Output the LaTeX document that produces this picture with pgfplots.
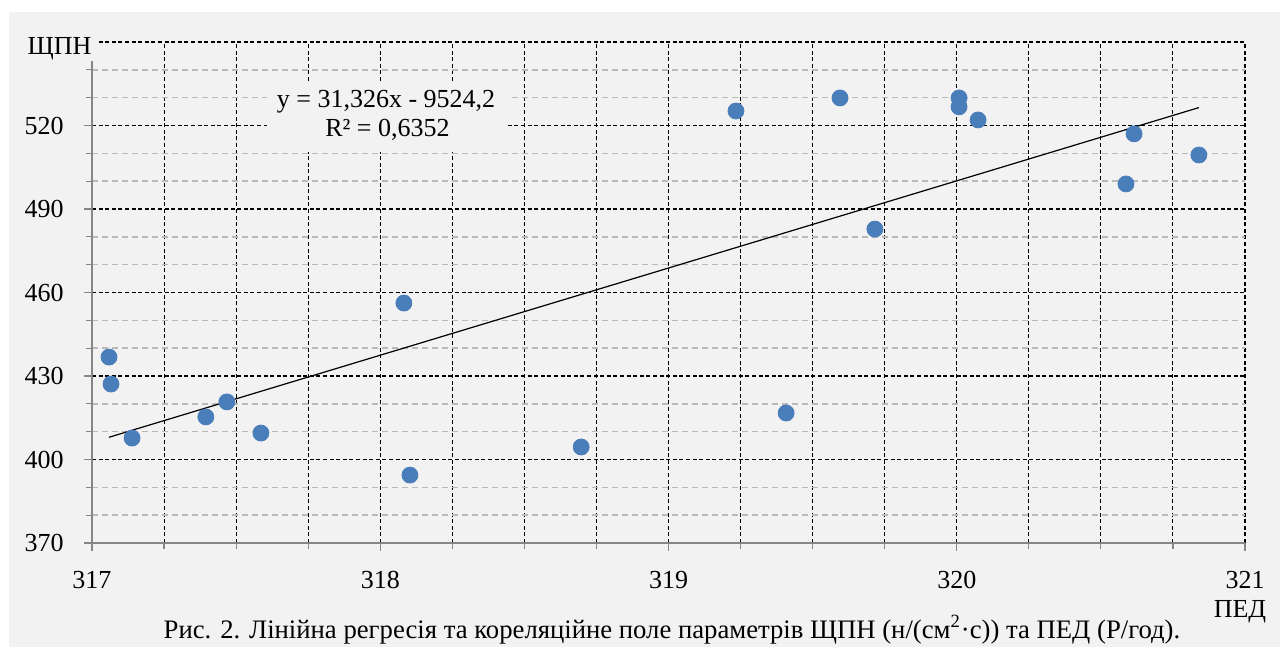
\documentclass[border=0pt]{standalone}
\usepackage{fontspec}
\setmainfont{Liberation Serif}
\usepackage{pgfplots}
\pgfplotsset{compat=1.18}
\definecolor{bgc}{RGB}{242,242,242}
\definecolor{ptc}{RGB}{74,126,187}
\definecolor{axc}{RGB}{134,134,134}
\definecolor{mingrid}{RGB}{185,185,185}
\newcommand\fs{\fontsize{13}{15}\selectfont}
\begin{document}
\begin{tikzpicture}
\useasboundingbox (0,0) rectangle (641.5pt,323.5pt);
\fill[white] (0,0) rectangle (641.5pt,323.5pt);
\fill[bgc] (4.5pt,0) rectangle (640pt,317.5pt);
\begin{axis}[
  at={(46pt,52pt)}, anchor=origin,
  scale only axis, width=576.5pt, height=250.5pt,
  xmin=317, xmax=321, ymin=370, ymax=550,
  axis x line=bottom, axis y line=left,
  axis line style={draw=axc, line width=0.7pt, -},
  y axis line style={shorten >=5pt},
  xtick={317,318,319,320,321},
  minor xtick={317.25,317.5,317.75,318.25,318.5,318.75,319.25,319.5,319.75,320.25,320.5,320.75},
  ytick={370,400,430,460,490,520},
  minor ytick={380,390,410,420,440,450,470,480,500,510,530,540},
  extra y ticks={550}, extra y tick labels={},
  extra y tick style={major tick length=0pt},
  tick align=outside,
  tick style={draw=axc, line width=0.6pt},
  major tick length=4pt, minor tick length=3.2pt,
  grid=both,
  major grid style={black, line width=0.55pt, dash pattern=on 2pt off 1.3pt},
  minor y grid style={mingrid, line width=0.7pt, dash pattern=on 3pt off 2pt},
  minor x grid style={black, line width=0.55pt, dash pattern=on 2pt off 1.3pt},
  /pgf/number format/assume math mode=true,
  /pgf/number format/1000 sep={},
  ticklabel style={font=\fs},
  xticklabel shift=6.7pt,
  yticklabel shift=6.7pt,
  clip=false,
]
\addplot[black, line width=0.6pt] coordinates {(317.059,407.99) (320.840,526.43)};
\addplot[only marks, mark=*, mark size=4pt, mark options={fill=ptc, draw=ptc}] coordinates {
(317.059,436.8)
(317.066,427.1)
(317.139,407.7)
(317.395,415.3)
(317.468,420.7)
(317.586,409.5)
(318.082,456.2)
(318.103,394.4)
(318.697,404.5)
(319.234,525.2)
(319.408,416.7)
(319.595,529.9)
(319.716,482.8)
(320.008,529.9)
(320.008,526.7)
(320.074,522.0)
(320.587,499.0)
(320.615,517.0)
(320.840,509.4)
};
\end{axis}
\fill[bgc] (133.5pt,247.5pt) rectangle (254pt,282.5pt);
\node[anchor=base, inner sep=0pt, font=\fs] at (193pt,269.5pt) {y = 31,326x - 9524,2};
\node[anchor=base, inner sep=0pt, font=\fs] at (193.75pt,255pt) {R² = 0,6352};
\fill[bgc] (13pt,293pt) rectangle (48pt,308pt);
\node[anchor=base, inner sep=0pt, font=\fs] at (29.75pt,296pt) {ЩПН};
\node[anchor=base, inner sep=0pt, font=\fs] at (620pt,15pt) {ПЕД};
\node[anchor=base, inner sep=0pt, font=\fontsize{13.35}{15}\selectfont] at (336pt,4.5pt) {Рис. 2. Лінійна регресія та кореляційне поле параметрів ЩПН (н/(см\textsuperscript{2}·с)) та ПЕД (Р/год).};
\end{tikzpicture}
\end{document}
